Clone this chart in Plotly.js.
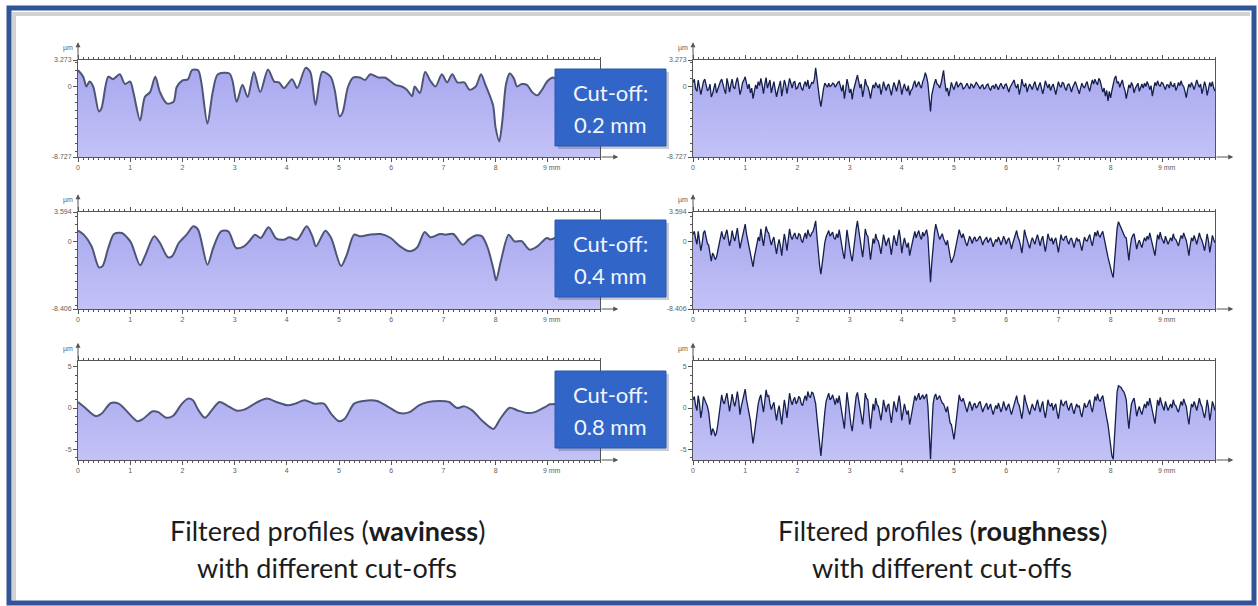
<!DOCTYPE html>
<html>
<head>
<meta charset="utf-8">
<script src="https://cdn.plot.ly/plotly-3.0.1.min.js"></script>
<style>
  html, body { margin: 0; padding: 0; background: #ffffff; }
  #chart { width: 1258px; height: 606px; }
</style>
</head>
<body>
<div id="chart"></div>
<script>
// ---- Profile data (x in mm, height in µm) ----

// Waviness profiles: [position mm, height µm]
const wav02 = [[0,2.0],[0.1,1.2],[0.16,0.0],[0.22,0.6],[0.29,0.0],[0.4,-3.1],[0.45,-2.7],[0.58,1.2],[0.67,0.9],[0.8,1.5],[0.9,0.3],[1.0,0.6],[1.06,-0.7],[1.19,-4.2],[1.28,-1.3],[1.38,-0.7],[1.48,1.2],[1.57,-0.7],[1.7,-2.1],[1.83,-1.9],[1.89,-0.1],[1.99,0.7],[2.11,0.9],[2.18,2.0],[2.3,2.0],[2.36,0.6],[2.48,-4.6],[2.58,-0.7],[2.68,1.5],[2.9,1.6],[2.96,0.7],[3.04,-1.9],[3.15,0.2],[3.25,-1.3],[3.37,1.8],[3.49,-0.7],[3.64,2.1],[3.76,0.6],[3.85,0.5],[3.95,-0.2],[4.1,0.9],[4.2,-0.2],[4.36,2.3],[4.45,1.8],[4.55,-2.3],[4.68,1.8],[4.84,1.2],[4.92,-0.5],[5.01,-3.7],[5.07,-3.2],[5.17,-0.1],[5.27,1.1],[5.4,1.1],[5.5,0.8],[5.6,1.5],[5.76,1.1],[5.88,1.1],[6.08,0.2],[6.2,0.0],[6.3,-0.4],[6.4,-1.2],[6.45,0.0],[6.55,-0.8],[6.65,1.8],[6.75,0.7],[6.85,0.0],[6.97,1.5],[7.07,0.5],[7.17,1.5],[7.27,0.5],[7.4,0.5],[7.5,-0.4],[7.62,0.0],[7.72,1.5],[7.8,0.3],[7.95,-2.3],[8.0,-5.1],[8.07,-6.8],[8.13,-4.2],[8.2,0.3],[8.27,1.6],[8.35,1.0],[8.41,0.0],[8.5,0.3],[8.6,0.2],[8.7,-0.7],[8.8,-1.1],[8.88,-0.5],[9.0,0.7],[9.1,1.1],[9.25,0.6],[9.4,0.9],[9.55,0.2],[9.7,0.8],[9.85,0.4],[10.0,0.2]];

const wav04 = [[0,1.28],[0.11,0.79],[0.26,-0.65],[0.4,-3.25],[0.47,-3.1],[0.58,-0.86],[0.69,0.87],[0.84,1.0],[0.95,0.38],[1.02,-0.24],[1.19,-3.0],[1.28,-1.9],[1.46,0.58],[1.57,-0.24],[1.72,-2.0],[1.8,-1.9],[1.93,-0.24],[2.08,0.79],[2.21,1.82],[2.3,1.41],[2.48,-2.92],[2.59,-0.86],[2.74,1.2],[2.88,1.2],[3.03,-0.86],[3.18,-0.65],[3.28,-0.03],[3.39,0.79],[3.5,0.38],[3.65,1.7],[3.8,0.3],[3.94,0.17],[4.05,0.46],[4.2,0.17],[4.38,1.82],[4.49,0.58],[4.56,-0.65],[4.74,1.28],[4.85,0.38],[5.04,-3.1],[5.15,-1.68],[5.29,0.79],[5.4,0.58],[5.58,0.79],[5.8,0.87],[5.99,0.38],[6.17,-0.65],[6.35,-1.27],[6.5,-0.77],[6.64,1.12],[6.75,0.46],[6.93,0.87],[7.04,0.79],[7.19,0.87],[7.37,-0.45],[7.48,0.17],[7.63,0.71],[7.74,0.58],[7.85,-0.86],[7.96,-3.5],[8.01,-4.86],[8.1,-2.5],[8.25,0.79],[8.36,-0.03],[8.5,-0.03],[8.65,-1.06],[8.8,-0.65],[8.98,0.38],[9.05,0.2],[9.2,0.5],[9.4,0.8],[9.6,0.3],[9.8,0.6],[10.0,0.4]];

const wav08 = [[0,0.73],[0.12,0.12],[0.34,-0.98],[0.45,-0.7],[0.63,0.61],[0.78,0.53],[0.89,-0.08],[1.14,-1.6],[1.25,-1.3],[1.43,-0.4],[1.54,-0.5],[1.69,-1.18],[1.83,-0.9],[1.98,0.45],[2.11,1.14],[2.2,0.94],[2.31,-0.29],[2.43,-1.18],[2.56,-0.29],[2.71,0.73],[2.85,0.33],[3.03,-0.29],[3.18,-0.2],[3.44,0.73],[3.62,1.14],[3.8,0.73],[4.02,0.33],[4.16,0.53],[4.34,0.94],[4.53,0.53],[4.71,0.53],[4.85,-0.7],[5.0,-1.6],[5.11,-1.3],[5.29,0.53],[5.47,0.86],[5.73,0.86],[5.95,0.12],[6.16,-0.61],[6.35,-0.5],[6.53,0.33],[6.71,0.73],[6.93,0.86],[7.11,0.73],[7.26,0.0],[7.4,0.2],[7.55,-0.29],[7.77,-1.7],[7.96,-2.53],[8.09,-1.3],[8.27,0.04],[8.42,-0.29],[8.6,-0.6],[8.75,-0.5],[8.97,0.2],[9.04,0.45],[9.2,0.5],[9.45,0.4],[9.7,0.6],[10.0,0.3]];

// Roughness profiles, sampled every 0.025 mm from 0 to 10 mm (one row per mm)
const ROUGH_STEP = 0.025;
const rough02 = [
  0.5,0.9,-0.3,-0.6,0.8,0.1,-1.0,-0.2,0.6,0.9,0.2,-0.5,-0.4,0.3,-1.3,-0.9,-0.2,0.4,-0.8,-0.3,0.3,0.6,0.9,0.1,-0.4,-0.9,1.0,0.3,-0.7,0.2,0.9,-0.1,-0.3,0.5,1.1,0.2,-1.0,-0.4,0.5,0.8,
  1.2,0.4,-0.3,0.3,-0.8,-0.2,-1.5,-0.6,0.2,-0.3,0.6,0.1,1.0,0.2,-0.9,0.3,1.1,-0.2,0.4,0.8,-0.8,-0.1,0.6,-0.4,-1.3,-0.5,0.3,0.7,-1.2,-0.3,0.8,0.2,-0.9,0.1,1.0,0.4,-0.2,0.5,0.6,-0.3,
  -0.2,0.3,0.5,-0.2,-0.5,0.2,0.6,0.0,0.8,-0.3,0.1,0.5,0.4,0.9,2.3,0.8,-0.4,-1.6,-2.5,-1.0,-0.3,0.4,0.2,-0.1,0.4,0.0,0.1,0.4,0.3,-0.1,0.2,0.5,0.6,0.0,-0.6,0.2,-1.5,-0.4,0.9,0.2,
  -0.8,-0.3,-1.6,-0.5,0.3,0.8,1.4,0.4,-0.2,0.3,-1.3,-0.4,0.9,0.2,0.0,-0.6,-1.5,-0.5,0.2,-0.2,0.5,0.1,-0.2,0.3,-1.0,-0.3,0.6,0.0,-0.5,0.1,0.3,-0.4,-1.1,-0.2,0.5,0.0,-0.6,0.2,0.8,0.1,
  -1.0,-0.2,0.3,-0.3,-0.6,0.1,-1.1,-0.5,-0.3,0.3,0.7,-0.1,0.3,0.6,0.1,-0.2,0.6,1.0,1.7,1.2,0.4,-1.2,-3.1,-1.0,-0.2,0.4,0.9,0.3,0.2,-0.2,0.3,1.0,2.0,0.5,-0.6,-0.2,-1.2,-0.4,0.5,0.0,
  -0.4,0.2,0.6,-0.1,0.1,0.4,0.3,-0.3,-0.2,0.1,0.4,0.0,-0.3,0.3,0.2,-0.2,0.1,0.5,0.3,-0.1,-0.3,0.1,0.2,-0.3,-0.2,0.2,0.3,-0.2,-0.5,0.0,0.1,-0.3,0.3,0.0,-0.4,0.1,0.4,0.0,-0.3,0.2,
  0.3,-0.2,-0.7,-0.1,0.2,0.6,0.8,0.1,-0.2,0.3,-1.0,-0.3,0.9,0.2,0.0,0.4,-0.7,-0.1,0.3,0.0,-0.4,0.2,0.6,-0.1,-0.5,0.1,0.5,-0.2,-0.9,-0.2,0.7,0.2,-0.2,0.3,-0.5,0.0,0.3,-0.3,-1.0,-0.2,
  0.6,0.1,-0.1,0.5,0.4,-0.2,-0.5,0.2,0.3,-0.1,-0.7,-0.1,0.3,0.6,0.1,-0.3,-0.9,-0.2,0.4,0.0,-0.2,0.3,0.6,-0.1,-0.6,0.2,0.8,0.3,0.9,0.5,0.2,1.0,0.7,0.0,-0.7,-0.2,-1.2,-0.5,-1.8,-0.6,
  -1.4,-0.5,0.3,1.0,1.3,0.4,0.6,-0.1,0.4,0.8,0.0,-0.5,-1.5,-0.4,0.2,-0.2,0.5,0.1,-0.8,-0.2,0.1,0.4,-0.6,-0.1,0.3,-0.2,0.4,0.0,0.6,0.2,-0.4,0.1,-1.2,-0.3,0.5,0.1,0.7,0.2,0.0,0.5,
  0.4,0.0,-0.4,0.2,0.2,-0.2,0.6,0.1,0.0,0.4,-0.5,-0.1,0.5,0.1,0.7,0.2,0.0,-0.6,-1.4,-0.4,0.3,-0.1,0.5,0.1,-0.4,0.2,0.8,0.3,-0.1,0.3,-0.9,-0.2,0.6,0.0,-1.1,-0.3,0.5,0.0,0.6,-0.2,
  -0.6
];
const rough04 = [
  0.8,1.2,0.3,-0.4,1.2,0.2,-1.2,-0.3,1.0,1.3,0.5,-0.3,-0.5,-1.4,-2.5,-1.5,-1.8,-2.3,-2.0,-1.2,-0.5,0.4,1.2,0.5,0.2,0.9,1.4,0.4,-0.6,0.1,1.3,0.5,0.0,0.8,1.6,0.3,-0.9,-0.1,0.7,1.4,
  2.1,0.9,0.0,-0.7,-1.3,-2.4,-3.2,-2.0,-1.2,-0.2,0.5,0.0,1.5,0.4,-0.6,0.6,1.8,1.2,1.0,0.2,-0.5,0.1,0.5,-0.6,-1.6,-0.5,0.2,-0.6,-1.8,-0.3,0.9,0.0,-1.2,0.2,1.5,0.6,0.2,0.7,1.0,0.4,
  0.3,0.9,0.8,0.1,-0.2,0.5,1.0,0.3,1.4,0.8,0.6,1.0,1.2,1.8,2.5,0.5,-1.5,-3.0,-4.1,-2.5,-1.0,-0.2,0.5,1.0,1.3,0.6,0.8,1.1,0.4,0.2,0.9,0.4,1.4,0.3,-0.8,-1.5,-2.2,-0.6,1.4,0.3,
  -1.0,-1.8,-2.5,-1.0,0.4,1.5,2.5,1.2,0.2,-0.9,-2.0,-0.5,1.5,0.8,0.6,-0.8,-2.3,-1.0,0.3,-0.3,0.9,0.2,0.0,-0.7,-1.6,-0.4,0.8,0.1,-0.6,0.0,0.4,-0.6,-1.7,-0.4,0.7,0.0,-0.6,0.5,1.4,0.2,
  -1.5,-0.4,0.4,-0.3,-0.8,-0.2,-1.8,-1.0,-0.4,0.5,1.2,0.4,0.9,1.3,0.6,0.2,1.1,0.6,1.0,1.4,0.5,-2.0,-5.1,-2.6,-0.5,1.0,2.1,1.2,0.8,0.2,0.6,0.9,0.3,-0.2,-0.5,0.1,-1.2,-1.9,-2.7,-2.3,
  -1.8,-1.0,-0.3,0.6,1.4,0.8,0.4,0.9,0.2,-0.2,-0.6,0.1,0.6,0.2,-0.3,0.3,0.5,0.0,0.1,0.4,0.6,0.1,-0.5,0.0,0.2,0.5,-0.2,0.2,0.4,-0.1,-0.7,-0.2,0.2,-0.1,0.5,0.1,-0.5,0.0,0.6,0.2,
  -0.4,0.1,0.4,-0.2,-1.0,-0.3,0.3,0.8,1.3,0.5,0.1,-0.6,-1.5,-0.2,1.4,0.7,0.2,-0.3,-0.9,-0.1,0.4,0.0,-0.4,0.3,0.8,0.1,-0.6,0.2,0.6,-0.4,-1.3,-0.3,0.9,0.3,0.0,0.4,-0.4,0.1,0.4,-0.5,
  -1.4,-0.3,0.8,0.2,0.1,0.5,0.6,0.0,-0.4,0.2,0.4,-0.2,-0.8,-0.1,0.4,0.0,0.2,-0.5,-1.2,-0.3,0.5,0.1,0.0,0.4,0.8,0.0,-0.6,0.3,1.1,0.6,1.3,0.7,0.5,0.9,1.2,0.4,-0.6,-1.2,-2.0,-2.8,
  -3.5,-4.0,-4.5,-2.0,0.2,1.6,2.4,2.0,1.6,1.2,1.0,0.5,0.4,-1.0,-2.4,-0.8,0.3,0.7,0.9,0.0,-1.0,-0.3,0.1,-0.4,-0.8,-0.1,0.4,0.0,0.6,0.2,1.0,0.3,-0.5,-0.9,-1.8,-0.4,0.8,0.2,1.1,0.4,
  0.1,-0.3,0.6,0.1,-0.4,0.0,0.4,0.0,0.9,0.3,0.2,-0.2,-0.6,0.1,0.7,0.3,1.0,0.5,0.1,-0.8,-1.8,-0.5,0.4,0.0,0.7,0.2,-0.4,0.3,1.0,0.4,0.1,-0.5,-1.2,-0.2,0.9,0.0,-1.4,-0.4,0.7,0.2,
  -0.2
];
const rough08 = [
  1.0,1.4,0.3,-0.3,1.5,0.5,-1.2,-0.2,1.4,1.0,0.8,0.2,-0.5,-2.0,-3.3,-2.5,-2.8,-3.4,-3.0,-2.0,-0.8,0.5,1.6,0.8,0.5,1.2,1.8,0.7,-0.4,0.6,1.7,0.8,0.2,1.0,2.0,0.9,-0.8,0.2,1.0,1.7,
  2.3,1.0,0.2,-0.6,-1.5,-3.0,-4.3,-3.2,-1.8,-0.5,0.5,1.2,1.6,0.5,-0.5,0.8,2.2,1.4,1.5,0.5,-0.2,0.3,0.7,-0.5,-1.5,-0.4,0.3,-0.8,-2.0,-0.4,1.0,0.0,-1.2,0.3,1.8,0.9,0.4,1.0,1.3,0.5,
  0.8,1.4,1.2,0.5,0.3,1.0,1.5,0.9,2.0,1.4,1.3,1.9,1.8,1.2,0.5,-1.2,-3.0,-4.8,-5.8,-4.0,-2.0,-0.5,0.8,1.5,1.8,1.0,1.2,1.6,0.8,0.4,1.2,0.6,1.5,0.4,-0.5,-1.6,-2.5,-0.2,1.9,0.7,
  -0.8,-2.0,-2.8,-1.2,0.5,1.4,1.9,0.9,0.3,-1.0,-2.0,-0.3,1.8,1.2,1.0,-0.8,-2.5,-0.9,0.5,-0.3,1.2,0.4,0.2,-0.6,-1.5,-0.4,1.0,0.2,-0.5,0.3,0.5,-0.7,-1.8,-0.5,0.8,0.1,-0.5,0.6,1.5,0.3,
  -1.5,-0.5,0.5,-0.2,-0.8,-0.3,-2.0,-1.2,-0.3,0.7,1.5,0.9,1.4,1.8,1.0,1.4,1.6,1.1,1.5,1.7,0.2,-3.0,-6.2,-2.5,0.5,1.4,1.7,1.0,1.2,1.5,1.0,0.6,0.5,-0.2,-0.5,0.2,-1.0,-1.8,-2.0,-3.0,
  -3.8,-2.5,-1.0,0.5,1.6,1.0,0.8,1.2,0.5,0.0,-0.5,0.2,0.8,0.3,-0.3,0.4,0.6,0.0,0.2,0.6,0.8,0.1,-0.5,0.0,0.3,0.6,-0.2,0.2,0.5,-0.2,-0.8,-0.2,0.3,-0.1,0.6,0.1,-0.5,0.0,0.8,0.2,
  -0.3,0.2,0.5,-0.2,-0.8,-0.2,0.4,1.0,1.5,0.6,0.3,-0.5,-1.3,-0.2,1.6,0.8,0.3,-0.3,-0.8,-0.1,0.5,0.0,-0.3,0.4,1.0,0.2,-0.5,0.3,0.8,-0.4,-1.2,-0.2,1.0,0.4,0.2,0.6,-0.3,0.2,0.5,-0.6,
  -1.3,-0.2,1.0,0.4,0.3,0.7,0.8,0.1,-0.3,0.3,0.6,-0.2,-0.7,0.0,0.5,0.1,0.3,-0.6,-1.1,-0.2,0.6,0.1,0.2,0.6,1.0,0.1,-0.5,0.4,1.4,0.9,1.7,1.0,0.8,1.2,1.5,0.6,-0.5,-1.2,-2.0,-3.5,
  -5.0,-5.8,-6.2,-3.0,0.5,2.0,2.7,2.6,2.5,2.2,2.0,1.6,1.0,-1.0,-2.5,-0.8,0.5,0.9,1.2,0.2,-1.0,-0.3,0.2,-0.4,-0.8,-0.1,0.5,0.0,0.8,0.3,1.2,0.4,-0.5,-1.0,-1.9,-0.4,1.0,0.3,1.3,0.6,
  0.2,-0.3,0.8,0.2,-0.3,0.1,0.5,0.0,1.0,0.4,0.3,-0.2,-0.5,0.2,0.8,0.3,1.1,0.6,0.2,-1.0,-2.0,-0.6,0.5,0.1,0.8,0.3,-0.3,0.4,1.2,0.5,0.2,-0.6,-1.2,-0.3,1.0,0.1,-1.5,-0.5,0.8,0.3,
  -0.3
];

// Axis ranges (µm) and labelled ticks for each row
const rangeRow1 = [-8.727, 3.273];
const rangeRow2 = [-8.406, 3.594];
const rangeRow3 = [-6.3, 5.7];
const yTicksRow1 = [-8.727, 0, 3.273], yTextRow1 = ['-8.727', '0', '3.273'];
const yTicksRow2 = [-8.406, 0, 3.594], yTextRow2 = ['-8.406', '0', '3.594'];
const yTicksRow3 = [-5, 0, 5], yTextRow3 = ['-5', '0', '5'];
const xRange = [0, 10];
const xTicks = [0, 1, 2, 3, 4, 5, 6, 7, 8, 9];
const xTickText = ['0', '1', '2', '3', '4', '5', '6', '7', '8', '\u00a0\u00a0\u00a0\u00a09 mm'];

const cutoffs = ['0.2 mm', '0.4 mm', '0.8 mm'];
const captionLeft = ['Filtered profiles (<b>waviness</b>)', 'with different cut-offs'];
const captionRight = ['Filtered profiles (<b>roughness</b>)', 'with different cut-offs'];

// ---- Layout geometry (pixels in a 1258 x 606 page) ----
const W = 1258, H = 606;
const fx = p => p / W;
const fy = p => 1 - p / H;
const colPx = [[78, 600], [693, 1215]];
const rowPx = [[60, 157], [212, 309], [361, 460]];

const rows = [
  { range: rangeRow1, tv: yTicksRow1, tt: yTextRow1, wav: wav02, rough: rough02 },
  { range: rangeRow2, tv: yTicksRow2, tt: yTextRow2, wav: wav04, rough: rough04 },
  { range: rangeRow3, tv: yTicksRow3, tt: yTextRow3, wav: wav08, rough: rough08 }
];

const FILL_TOP = '#a6a5ee';
const FILL_BOTTOM = '#c3c2f6';
const AXIS_COLOR = '#555555';
const tickFont = { family: 'Liberation Sans, Arial, sans-serif', size: 7, color: '#606060' };

const traces = [];
const layout = {
  width: W, height: H,
  margin: { l: 0, r: 0, t: 0, b: 0 },
  paper_bgcolor: '#ffffff',
  plot_bgcolor: '#ffffff',
  showlegend: false,
  annotations: [],
  shapes: []
};

let n = 0;
rows.forEach((row, r) => {
  [0, 1].forEach(c => {
    n += 1;
    const sfx = n === 1 ? '' : String(n);
    const xa = 'x' + sfx, ya = 'y' + sfx;
    const ymin = row.range[0], ymax = row.range[1];

    // baseline at the bottom of the box so the profile fills down to it
    traces.push({
      x: xRange, y: [ymin, ymin], xaxis: xa, yaxis: ya,
      mode: 'lines', line: { width: 0, color: 'rgba(0,0,0,0)' },
      hoverinfo: 'skip'
    });

    const fillSpec = {
      fill: 'tonexty',
      fillcolor: '#b3b2f2',
      fillgradient: {
        type: 'vertical',
        colorscale: [[0, FILL_BOTTOM], [1, FILL_TOP]],
        start: ymin, stop: ymax
      },
      xaxis: xa, yaxis: ya, hoverinfo: 'skip'
    };

    if (c === 0) {
      traces.push(Object.assign({
        x: row.wav.map(p => p[0]),
        y: row.wav.map(p => p[1]),
        mode: 'lines',
        line: { color: '#4d5578', width: 2, shape: 'spline', smoothing: 0.8 }
      }, fillSpec));
    } else {
      traces.push(Object.assign({
        y: row.rough, x0: 0, dx: ROUGH_STEP,
        mode: 'lines',
        line: { color: '#15204d', width: 1.3 }
      }, fillSpec));
    }

    layout['xaxis' + sfx] = {
      domain: [fx(colPx[c][0]), fx(colPx[c][1])],
      range: xRange, anchor: ya,
      showline: true, linecolor: AXIS_COLOR, linewidth: 1,
      mirror: 'allticks', ticks: 'outside', ticklen: 4, tickcolor: AXIS_COLOR,
      tickmode: 'array', tickvals: xTicks, ticktext: xTickText,
      tickfont: tickFont, showgrid: false, zeroline: false, fixedrange: true,
      minor: { tickmode: 'linear', tick0: 0, dtick: 0.1, ticklen: 2, ticks: 'outside', tickcolor: AXIS_COLOR, showgrid: false }
    };
    layout['yaxis' + sfx] = {
      domain: [fy(rowPx[r][1]), fy(rowPx[r][0])],
      range: row.range, anchor: xa,
      showline: true, linecolor: AXIS_COLOR, linewidth: 1,
      mirror: true, ticks: 'outside', ticklen: 4, tickcolor: AXIS_COLOR,
      tickmode: 'array', tickvals: row.tv, ticktext: row.tt,
      tickfont: tickFont, showgrid: false, zeroline: false, fixedrange: true,
      minor: { tickmode: 'linear', tick0: 0, dtick: 1, ticklen: 2, ticks: 'outside', tickcolor: AXIS_COLOR, showgrid: false }
    };

    // axis arrows and unit label
    layout.annotations.push({
      xref: xa, yref: ya, axref: xa, ayref: ya,
      x: 10.35, y: ymin, ax: 10, ay: ymin, text: '',
      showarrow: true, arrowhead: 2, arrowsize: 1, arrowwidth: 1, arrowcolor: AXIS_COLOR
    });
    layout.annotations.push({
      xref: xa, yref: ya, axref: xa, ayref: ya,
      x: 0, y: ymax + 2.2, ax: 0, ay: ymax, text: '',
      showarrow: true, arrowhead: 2, arrowsize: 1, arrowwidth: 1, arrowcolor: AXIS_COLOR
    });
    layout.annotations.push({
      xref: xa, yref: ya, x: 0, y: ymax, text: 'µm',
      showarrow: false, xanchor: 'right', yanchor: 'bottom', xshift: -3, yshift: 6,
      font: tickFont
    });
  });
});

// Cut-off callouts
const calloutTops = [69, 220, 371];
const BOX_W = 111, BOX_H = 77, BOX_X = 555;
const calloutFont = { family: 'Lato, Open Sans, sans-serif', size: 22, color: '#f2f5ff' };
cutoffs.forEach((label, i) => {
  const top = calloutTops[i];
  layout.shapes.push({
    type: 'rect', xref: 'paper', yref: 'paper', layer: 'above',
    x0: fx(BOX_X + 3), x1: fx(BOX_X + BOX_W + 3), y0: fy(top + BOX_H + 3), y1: fy(top + 3),
    fillcolor: 'rgba(40,50,80,0.25)', line: { width: 0 }
  });
  layout.shapes.push({
    type: 'rect', xref: 'paper', yref: 'paper', layer: 'above',
    x0: fx(BOX_X), x1: fx(BOX_X + BOX_W), y0: fy(top + BOX_H), y1: fy(top),
    fillcolor: '#3166c8', line: { color: '#2a57b0', width: 1 }
  });
  layout.annotations.push({
    xref: 'paper', yref: 'paper', x: fx(BOX_X + BOX_W / 2), y: fy(top + 23),
    text: 'Cut-off:', showarrow: false, xanchor: 'center', yanchor: 'middle', font: calloutFont
  });
  layout.annotations.push({
    xref: 'paper', yref: 'paper', x: fx(BOX_X + BOX_W / 2), y: fy(top + 55),
    text: label, showarrow: false, xanchor: 'center', yanchor: 'middle', font: calloutFont
  });
});

// Captions under the two columns
const captionFont = { family: 'Lato, Open Sans, sans-serif', size: 27, color: '#1c1c1c' };
[[captionLeft, 327], [captionRight, 942]].forEach(([lines, cx]) => {
  lines.forEach((t, k) => {
    layout.annotations.push({
      xref: 'paper', yref: 'paper', x: fx(cx), y: fy(k === 0 ? 530 : 567),
      text: t, showarrow: false, xanchor: 'center', yanchor: 'middle', font: captionFont
    });
  });
});

// Page frame: blue border with a light grey inner edge on top and left
layout.shapes.push({
  type: 'line', xref: 'paper', yref: 'paper', layer: 'above',
  x0: fx(14), x1: fx(14), y0: fy(600), y1: fy(12),
  line: { color: '#d2d2d2', width: 4 }
});
layout.shapes.push({
  type: 'line', xref: 'paper', yref: 'paper', layer: 'above',
  x0: fx(12), x1: fx(1250), y0: fy(14), y1: fy(14),
  line: { color: '#d2d2d2', width: 4 }
});
layout.shapes.push({
  type: 'rect', xref: 'paper', yref: 'paper', layer: 'above',
  x0: fx(9), x1: fx(1254), y0: fy(603), y1: fy(8),
  fillcolor: 'rgba(0,0,0,0)', line: { color: '#2f5597', width: 5 }
});

Plotly.newPlot('chart', traces, layout, { displayModeBar: false, staticPlot: true });
</script>
</body>
</html>
